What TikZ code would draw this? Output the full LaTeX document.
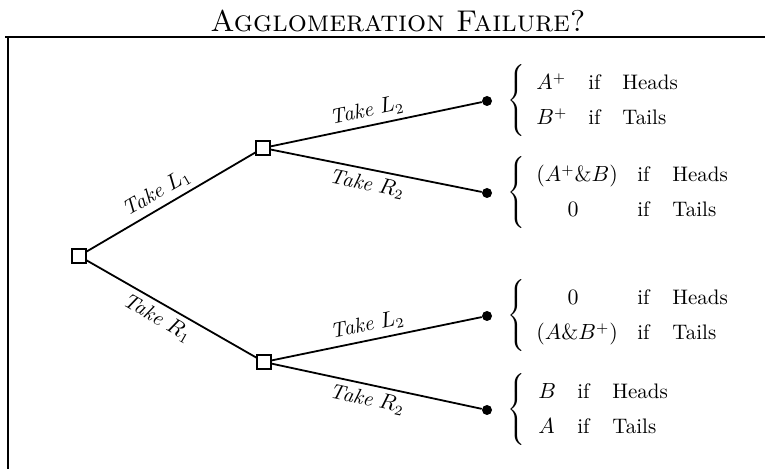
\documentclass[tikz,border=0pt]{standalone}
\usepackage{amsmath}
\begin{document}
\begin{tikzpicture}[x=0.5pt,y=-0.5pt,
  dec/.style={draw, line width=0.75pt, minimum size=6.8pt, inner sep=0pt, fill=white},
  leaf/.style={circle, fill, minimum size=5pt, inner sep=0pt},
  br/.style={line width=0.9pt},
  lab/.style={font=\fontsize{10.5}{12}\selectfont, sloped, inner sep=2.5pt},
  cell/.style={anchor=base west, inner sep=0pt, font=\fontsize{10.5}{12}\selectfont},
  ccell/.style={anchor=base, inner sep=0pt, font=\fontsize{10.5}{12}\selectfont},
  bracenode/.style={inner sep=0pt, anchor=west}]
\newcommand{\bigbrace}{$\delimitershortfall=0pt\delimiterfactor=1000\left\{\rule[-15pt]{0pt}{35pt}\right.$}
\useasboundingbox (0,0) rectangle (765,469);
\coordinate (fa) at (5,37);
\coordinate (fb) at (765,37);
\coordinate (fc) at (8,37);
\coordinate (fd) at (8,469);
\draw[line width=1pt] (fa) -- (fb);
\draw[line width=1pt] (fc) -- (fd);
\node[font=\fontsize{15}{17}\selectfont\scshape, anchor=base] (title) at (398,32) {Agglomeration Failure?};
% decision nodes
\node[dec] (r) at (79,256) {};
\node[dec] (u) at (263,148) {};
\node[dec] (d) at (264,362) {};
% leaves
\node[leaf] (uu) at (487,101) {};
\node[leaf] (ud) at (487,193) {};
\node[leaf] (du) at (487,316) {};
\node[leaf] (dd) at (487,410) {};
% edges
\draw[br] (r) -- node[lab, above, pos=0.46] {\textit{Take} $L_1$} (u);
\draw[br] (r) -- node[lab, below, pos=0.46] {\textit{Take} $R_1$} (d);
\draw[br] (u) -- node[lab, above, pos=0.47] {\textit{Take} $L_2$} (uu);
\draw[br] (u) -- node[lab, below, pos=0.47] {\textit{Take} $R_2$} (ud);
\draw[br] (d) -- node[lab, above, pos=0.47] {\textit{Take} $L_2$} (du);
\draw[br] (d) -- node[lab, below, pos=0.47] {\textit{Take} $R_2$} (dd);
% braces
\node[bracenode] (b1) at (507,101) {\bigbrace};
\node[bracenode] (b2) at (507,193) {\bigbrace};
\node[bracenode] (b3) at (507,316) {\bigbrace};
\node[bracenode] (b4) at (507,410) {\bigbrace};
% group 1
\node[cell] (g1a) at (536,90) {$A^+$};
\node[cell] (g1b) at (588,90) {if};
\node[cell] (g1c) at (622,90) {Heads};
\node[cell] (g1d) at (536,125) {$B^+$};
\node[cell] (g1e) at (588,125) {if};
\node[cell] (g1f) at (622,125) {Tails};
% group 2
\node[cell] (g2a) at (536,182) {$(A^+\&B)$};
\node[cell] (g2b) at (637,182) {if};
\node[cell] (g2c) at (672,182) {Heads};
\node[ccell] (g2d) at (573,217) {$0$};
\node[cell] (g2e) at (637,217) {if};
\node[cell] (g2f) at (672,217) {Tails};
% group 3
\node[ccell] (g3a) at (573,305) {$0$};
\node[cell] (g3b) at (637,305) {if};
\node[cell] (g3c) at (672,305) {Heads};
\node[cell] (g3d) at (536,340) {$(A\&B^+)$};
\node[cell] (g3e) at (637,340) {if};
\node[cell] (g3f) at (672,340) {Tails};
% group 4
\node[cell] (g4a) at (538,399) {$B$};
\node[cell] (g4b) at (577,399) {if};
\node[cell] (g4c) at (612,399) {Heads};
\node[cell] (g4d) at (538,434) {$A$};
\node[cell] (g4e) at (577,434) {if};
\node[cell] (g4f) at (612,434) {Tails};
\end{tikzpicture}
\end{document}
